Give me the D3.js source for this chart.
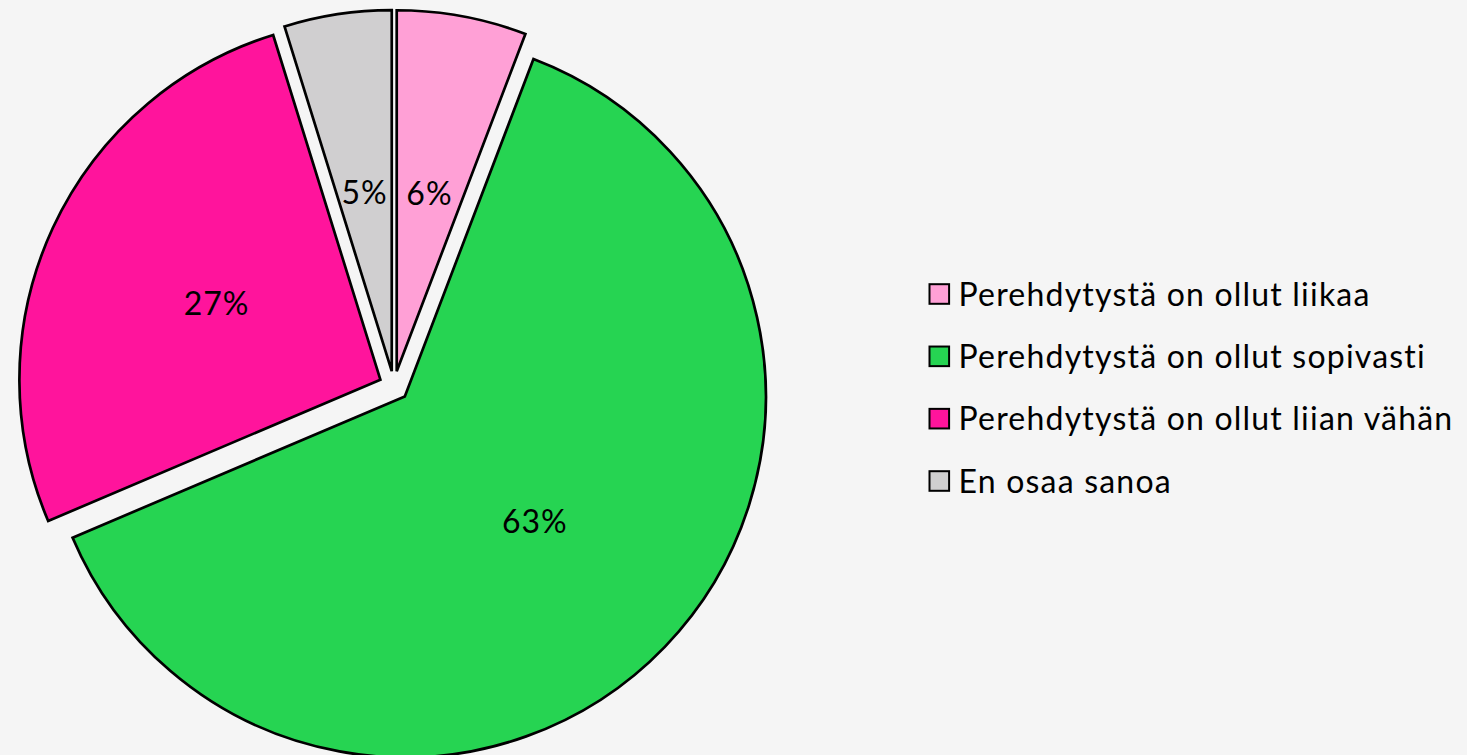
<!DOCTYPE html>
<html>
<head>
<meta charset="utf-8">
<script src="https://cdn.jsdelivr.net/npm/d3@7"></script>
<style>
  html, body { margin: 0; padding: 0; background: #f5f5f5; }
  svg { display: block; }
</style>
</head>
<body>
<script>
// shares (percent of answers)
var categories = ["Perehdytystä on ollut liikaa", "Perehdytystä on ollut sopivasti",
                  "Perehdytystä on ollut liian vähän", "En osaa sanoa"];
var values     = [5.8, 62.8, 26.6, 4.8];
var labels     = ["6%", "63%", "27%", "5%"];
var colors     = ["#ffa0d6", "#26d452", "#ff149c", "#d0cfd0"];

var width = 1467, height = 755;
var cx = 394, cy = 386, radius = 361, explode = 15;

var svg = d3.select("body").append("svg")
    .attr("width", width)
    .attr("height", height);

svg.append("rect")
    .attr("width", width).attr("height", height)
    .attr("fill", "#f5f5f5");

var pie = d3.pie().sort(null).value(function (d) { return d.value; });
var data = pie(values.map(function (v, i) {
    return { value: v, name: categories[i], label: labels[i], color: colors[i] };
}));

var arc = d3.arc().innerRadius(0).outerRadius(radius);

var offset = function (d) {
    var mid = (d.startAngle + d.endAngle) / 2;
    return [explode * Math.sin(mid), -explode * Math.cos(mid)];
};

var g = svg.append("g").attr("transform", "translate(" + cx + "," + cy + ")");

var slices = g.selectAll("g.slice")
    .data(data)
    .enter().append("g")
    .attr("class", "slice")
    .attr("transform", function (d) {
        var o = offset(d);
        return "translate(" + o[0] + "," + o[1] + ")";
    });

slices.append("path")
    .attr("d", arc)
    .attr("fill", function (d) { return d.data.color; })
    .attr("stroke", "#000")
    .attr("stroke-width", 2.7)
    .attr("stroke-linejoin", "miter");

slices.append("text")
    .attr("transform", function (d) {
        var c = arc.centroid(d);
        return "translate(" + c[0] + "," + c[1] + ")";
    })
    .attr("text-anchor", "middle")
    .attr("dy", "0.36em")
    .style("font-family", "Lato, 'Open Sans', sans-serif")
    .style("font-size", "32px")
    .style("letter-spacing", "1px")
    .attr("fill", "#000")
    .text(function (d) { return d.data.label; });

// legend
var legend = svg.append("g").attr("transform", "translate(928.5,0)");
var rowY = d3.scalePoint().domain(categories).range([294, 481]);

var rows = legend.selectAll("g.row")
    .data(data)
    .enter().append("g")
    .attr("class", "row")
    .attr("transform", function (d) { return "translate(0," + rowY(d.data.name) + ")"; });

rows.append("rect")
    .attr("x", 1).attr("y", -9.8)
    .attr("width", 19.6).attr("height", 19.6)
    .attr("fill", function (d) { return d.data.color; })
    .attr("stroke", "#000")
    .attr("stroke-width", 2);

rows.append("text")
    .attr("x", 30)
    .attr("dy", "0.36em")
    .style("font-family", "Lato, 'Open Sans', sans-serif")
    .style("font-size", "32px")
    .style("letter-spacing", "1.2px")
    .attr("fill", "#000")
    .text(function (d) { return d.data.name; });
</script>
</body>
</html>
